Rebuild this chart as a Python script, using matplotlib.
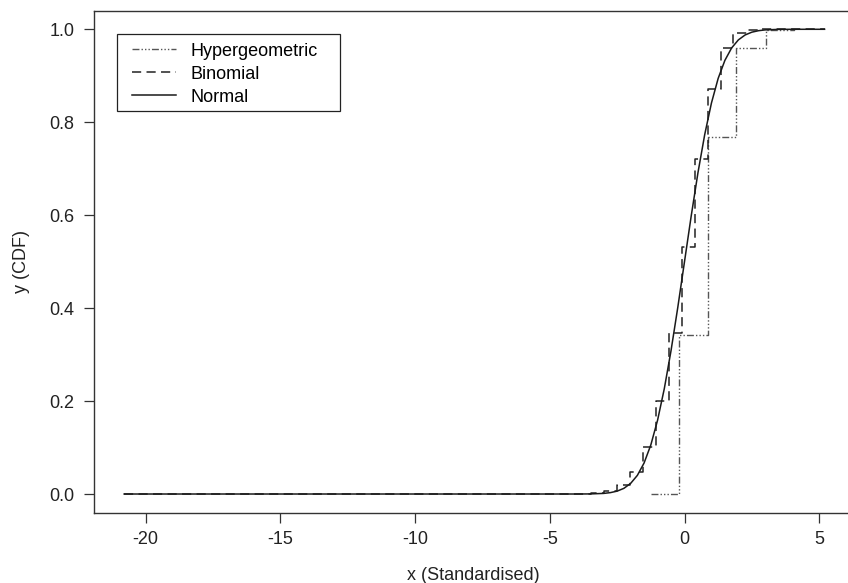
import matplotlib
matplotlib.use("Agg")
import matplotlib.pyplot as plt
from matplotlib.patches import Rectangle

plt.rcParams['font.family'] = ['Liberation Sans', 'DejaVu Sans']

# hypergeometric CDF (standardised), step points
hyper_x = [-1.26, -0.20, 0.86, 1.93, 3.01, 4.06]
hyper_y = [0.0, 0.343, 0.769, 0.960, 0.998, 1.0]

# binomial CDF (standardised), step points
binom_x = [-20.8, -3.47, -2.99, -2.50, -2.03, -1.53, -1.06, -0.57, -0.10,
           0.385, 0.87, 1.35, 1.81, 2.31, 2.79, 5.2]
binom_y = [0.0, 0.002, 0.007, 0.019, 0.048, 0.102, 0.201, 0.347, 0.532,
           0.720, 0.871, 0.959, 0.993, 0.999, 1.0, 1.0]

# normal CDF
norm_x = [-20.8, -4.0, -3.5, -3.0, -2.75, -2.5, -2.25, -2.0, -1.75, -1.5,
          -1.25, -1.0, -0.75, -0.5, -0.25, 0.0, 0.25, 0.5, 0.75, 1.0, 1.25,
          1.5, 1.75, 2.0, 2.25, 2.5, 2.75, 3.0, 3.5, 4.0, 5.2]
norm_y = [0.0, 0.0, 0.0002, 0.0013, 0.003, 0.0062, 0.0122, 0.0228, 0.0401,
          0.0668, 0.1056, 0.1587, 0.2266, 0.3085, 0.4013, 0.5, 0.5987, 0.6915,
          0.7734, 0.8413, 0.8944, 0.9332, 0.9599, 0.9772, 0.9878, 0.9938,
          0.997, 0.9987, 0.9998, 1.0, 1.0]

W, H = 848, 583
fig = plt.figure(figsize=(W / 100, H / 100), dpi=100)
ax = fig.add_axes([94 / W, 1 - 512.6 / H, 758.6 / W, 501.9 / H])

ax.plot(hyper_x, hyper_y, drawstyle='steps-post', color='#555555', lw=1.0,
        dashes=(5, 1.5, 1, 1.5, 1, 1.5, 1, 1.5), label='Hypergeometric')
ax.plot(binom_x, binom_y, drawstyle='steps-post', color='#222222', lw=1.1,
        dashes=(6, 3.5), label='Binomial')
ax.plot(norm_x, norm_y, color='#1a1a1a', lw=1.1, label='Normal')

ax.set_xlim(-21.92, 6.24)
ax.set_ylim(-0.04, 1.04)
ax.set_xticks([-20, -15, -10, -5, 0, 5])
ax.set_xticklabels(['-20', '-15', '-10', '-5', '0', '5'])
ax.set_yticks([0.0, 0.2, 0.4, 0.6, 0.8, 1.0])
ax.set_yticklabels(['0.0', '0.2', '0.4', '0.6', '0.8', '1.0'])
ax.tick_params(length=7.2, width=0.9, color='#333333', labelsize=13,
               labelcolor='#222222')
ax.tick_params(axis='x', pad=6.0)
ax.tick_params(axis='y', pad=7.0)
for s in ax.spines.values():
    s.set_color('#333333')
    s.set_linewidth(1.0)

ax.set_xlabel('x (Standardised)', fontsize=13, color='#222222', labelpad=13.5)
ax.set_ylabel('y (CDF)', fontsize=13, color='#222222', labelpad=14)

# legend entries without frame, box drawn separately (R-style padding)
leg = ax.legend(loc='upper left', bbox_to_anchor=(131.7 / W, 1 - 42.5 / H),
                bbox_transform=fig.transFigure, borderaxespad=0, borderpad=0,
                frameon=False, fontsize=13, handlelength=2.45,
                handletextpad=0.78, labelspacing=0.34)
fig.patches.append(Rectangle((116.7 / W, 1 - 110.7 / H), 223.3 / W, 76.7 / H,
                             transform=fig.transFigure, fill=False,
                             ec='#222222', lw=0.9))

fig.savefig('out.png', dpi=100)
